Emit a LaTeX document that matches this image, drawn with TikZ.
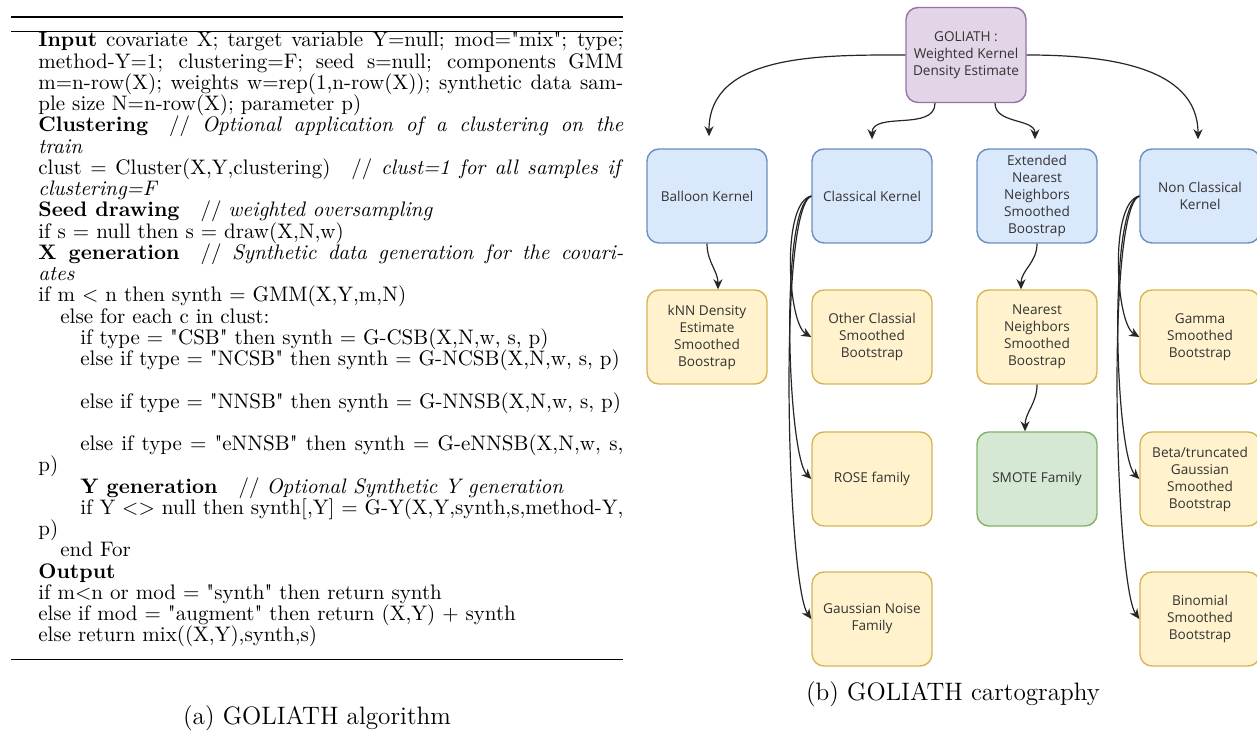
\documentclass[tikz,border=0pt]{standalone}
\usepackage{fontspec}
\newfontfamily\sketchfont{Open Sans}
\usetikzlibrary{arrows.meta}
\definecolor{bluefill}{HTML}{DAE8FC}
\definecolor{bluedraw}{HTML}{6C8EBF}
\definecolor{yelfill}{HTML}{FFF2CC}
\definecolor{yeldraw}{HTML}{D6B656}
\definecolor{grnfill}{HTML}{D5E8D4}
\definecolor{grndraw}{HTML}{82B366}
\definecolor{purfill}{HTML}{E1D5E7}
\definecolor{purdraw}{HTML}{9673A6}
\newcommand{\qq}{\textquotedbl}
\tikzset{
  algo/.style={anchor=base west, inner sep=0pt, font=\fontsize{10.5}{12.6}\selectfont},
  capt/.style={anchor=base, inner sep=0pt, font=\fontsize{12.6}{15}\selectfont},
  box/.style={draw, rounded corners=6pt, minimum width=60pt, minimum height=47pt,
    inner sep=1pt, align=center, font=\sketchfont\fontsize{6.8}{8.5}\selectfont,
    text=black!80, line width=0.7pt},
  bluebox/.style={box, fill=bluefill, draw=bluedraw},
  yelbox/.style={box, fill=yelfill, draw=yeldraw},
  grnbox/.style={box, fill=grnfill, draw=grndraw},
  purbox/.style={box, fill=purfill, draw=purdraw},
  conn/.style={-{Stealth[length=5pt,width=4.5pt]}, line width=0.6pt, black!85},
}
\begin{document}
\begin{tikzpicture}[x=0.5pt,y=-0.5pt]
\useasboundingbox[fill=white] (0,0) rectangle (1257,731);

% ---------- (a) algorithm ----------
\draw[line width=1pt] (11,17) coordinate (r1a) -- (623,17) coordinate (r1b);
\draw[line width=0.5pt] (11,32) coordinate (r2a) -- (623,32) coordinate (r2b);
\draw[line width=0.5pt] (11,659) coordinate (r3a) -- (623,659) coordinate (r3b);

\node[algo] (l1) at (38,{47+21.24*0}) {\makebox[292.5pt][s]{\textbf{Input} covariate X; target variable Y=null; mod=\qq mix\qq; type;}};
\node[algo] (l2) at (38,{47+21.24*1}) {\makebox[292.5pt][s]{method-Y=1; clustering=F; seed s=null; components GMM}};
\node[algo] (l3) at (38,{47+21.24*2}) {\makebox[292.5pt][s]{m=n-row(X); weights w=rep(1,n-row(X)); synthetic data sam-}};
\node[algo] (l4) at (38,{47+21.24*3}) {ple size N=n-row(X); parameter p)};
\node[algo] (l5) at (38,{47+21.24*4}) {\makebox[292.5pt][s]{\textbf{Clustering}\quad // \textit{Optional application of a clustering on the}}};
\node[algo] (l6) at (38,{47+21.24*5}) {\textit{train}};
\node[algo] (l7) at (38,{47+21.24*6}) {\makebox[292.5pt][s]{clust = Cluster(X,Y,clustering)\quad // \textit{clust=1 for all samples if}}};
\node[algo] (l8) at (38,{47+21.24*7}) {\textit{clustering=F}};
\node[algo] (l9) at (38,{47+21.24*8}) {\textbf{Seed drawing}\quad // \textit{weighted oversampling}};
\node[algo] (l10) at (38,{47+21.24*9}) {if s = null then s = draw(X,N,w)};
\node[algo] (l11) at (38,{47+21.24*10}) {\makebox[292.5pt][s]{\textbf{X generation}\quad // \textit{Synthetic data generation for the covari-}}};
\node[algo] (l12) at (38,{47+21.24*11}) {\textit{ates}};
\node[algo] (l13) at (38,{47+21.24*12}) {if m < n then synth = GMM(X,Y,m,N)};
\node[algo] (l14) at (60,{47+21.24*13}) {else for each c in clust:};
\node[algo] (l15) at (80,{47+21.24*14}) {if type = \qq CSB\qq{} then synth = G-CSB(X,N,w, s, p)};
\node[algo] (l16) at (80,{47+21.24*15}) {else if type = \qq NCSB\qq{} then synth = G-NCSB(X,N,w, s, p)};
\node[algo] (l18) at (80,{47+21.24*17}) {else if type = \qq NNSB\qq{} then synth = G-NNSB(X,N,w, s, p)};
\node[algo] (l20) at (80,{47+21.24*19}) {\makebox[271.5pt][s]{else if type = \qq eNNSB\qq{} then synth = G-eNNSB(X,N,w, s,}};
\node[algo] (l21) at (38,{47+21.24*20}) {p)};
\node[algo] (l22) at (80,{47+21.24*21}) {\textbf{Y generation}\quad // \textit{Optional Synthetic Y generation}};
\node[algo] (l23) at (80,{47+21.24*22}) {\makebox[271.5pt][s]{if Y <> null then synth[,Y] = G-Y(X,Y,synth,s,method-Y,}};
\node[algo] (l24) at (38,{47+21.24*23}) {p)};
\node[algo] (l25) at (60,{47+21.24*24}) {end For};
\node[algo] (l26) at (38,{47+21.24*25}) {\textbf{Output}};
\node[algo] (l27) at (38,{47+21.24*26}) {if m<n or mod = \qq synth\qq{} then return synth};
\node[algo] (l28) at (38,{47+21.24*27}) {else if mod = \qq augment\qq{} then return (X,Y) + synth};
\node[algo] (l29) at (38,{47+21.24*28}) {else return mix((X,Y),synth,s)};

\node[capt] (capa) at (317,724) {(a) GOLIATH algorithm};

% ---------- (b) cartography ----------
\node[purbox, minimum height=47.5pt] (G) at (966,55) {GOLIATH :\\Weighted Kernel\\Density Estimate};

\node[bluebox] (B1) at (707,196) {Balloon Kernel};
\node[bluebox] (CK) at (872,196) {Classical Kernel};
\node[bluebox] (EX) at (1037,196) {Extended\\Nearest\\Neighbors\\Smoothed\\Boostrap};
\node[bluebox] (NC) at (1200,196) {Non Classical\\Kernel};

\node[yelbox] (KN) at (707,337) {kNN Density\\Estimate\\Smoothed\\Boostrap};
\node[yelbox] (OC) at (872,337) {Other Classial\\Smoothed\\Bootstrap};
\node[yelbox] (NN) at (1037,337) {Nearest\\Neighbors\\Smoothed\\Boostrap};
\node[yelbox] (GA) at (1200,337) {Gamma\\Smoothed\\Bootstrap};

\node[yelbox] (RO) at (872,479) {ROSE family};
\node[grnbox] (SM) at (1037,479) {SMOTE Family};
\node[yelbox] (BE) at (1200,479) {Beta/truncated\\Gaussian\\Smoothed\\Bootstrap};

\node[yelbox] (GN) at (872,619) {Gaussian Noise\\Family};
\node[yelbox] (BI) at (1200,619) {Binomial\\Smoothed\\Bootstrap};

\draw[conn] (G.west) to[out=180,in=90] ([xshift=1pt,yshift=6pt]B1.north);
\draw[conn] ([xshift=-15.5pt]G.south) to[out=-90,in=90] ([yshift=4.5pt]CK.north);
\draw[conn] ([xshift=14.5pt]G.south) to[out=-90,in=90] ([xshift=-1pt,yshift=4.5pt]EX.north);
\draw[conn] (G.east) to[out=0,in=90] ([xshift=-1pt,yshift=4.5pt]NC.north);

\draw[conn] (B1.south) to[out=-90,in=90] ([xshift=5.5pt]KN.north);
\draw[conn] (EX.south) to[out=-90,in=90] ([xshift=-8pt]NN.north);
\draw[conn] (NN.south) to[out=-90,in=90] ([xshift=-6pt]SM.north);

\draw[conn] (CK.west) .. controls +(-30,6) and +(-24,-14) .. (OC.west);
\draw[conn] (CK.west) .. controls +(-32,10) and +(-24,-24) .. (RO.west);
\draw[conn] (CK.west) .. controls +(-34,14) and +(-24,-34) .. (GN.west);

\draw[conn] (NC.west) .. controls +(-30,6) and +(-24,-14) .. (GA.west);
\draw[conn] (NC.west) .. controls +(-32,10) and +(-24,-24) .. (BE.west);
\draw[conn] (NC.west) .. controls +(-34,14) and +(-24,-34) .. (BI.west);

\node[capt] (capb) at (953,700) {(b) GOLIATH cartography};
\end{tikzpicture}
\end{document}
